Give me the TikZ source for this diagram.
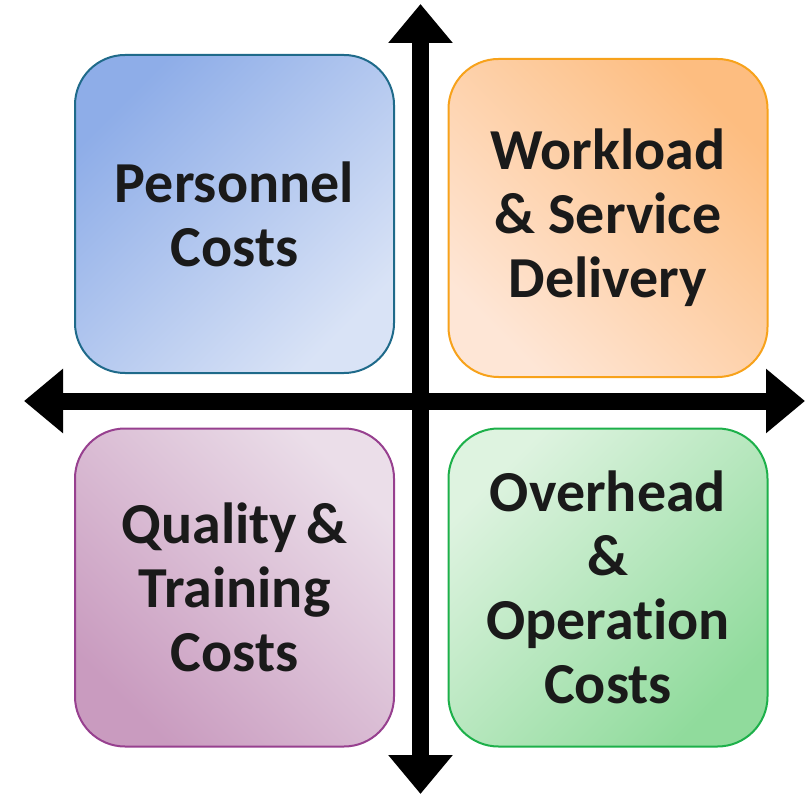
\documentclass[tikz,border=0pt]{standalone}
\usepackage{fontspec}
\setmainfont{Carlito}[Ligatures=NoCommon]
\usetikzlibrary{arrows.meta}
\definecolor{txt}{HTML}{1A1A1A}
\definecolor{bluebd}{HTML}{1F6A8A}
\definecolor{bluedk}{HTML}{8EADE8}
\definecolor{bluelt}{HTML}{D9E3F6}
\definecolor{orabd}{HTML}{F7A21B}
\definecolor{oradk}{HTML}{FDBD80}
\definecolor{oralt}{HTML}{FEE6D6}
\definecolor{purbd}{HTML}{97408F}
\definecolor{purdk}{HTML}{C99BBF}
\definecolor{purlt}{HTML}{EBDEE9}
\definecolor{grnbd}{HTML}{1DB04A}
\definecolor{grndk}{HTML}{90DB9C}
\definecolor{grnlt}{HTML}{DEF3E0}
\tikzset{
  quad/.style={rounded corners=50pt, line width=2pt, minimum width=319pt, minimum height=318pt,
    inner sep=0pt, align=center, text=txt, font=\fontsize{58}{64}\selectfont\bfseries},
  axis/.style={line width=17pt, {Triangle[length=39pt,width=62pt]}-{Triangle[length=39pt,width=62pt]}}
}
\begin{document}
\begin{tikzpicture}[x=1pt,y=1pt]
\useasboundingbox (0,0) rectangle (807,-797);
\node[quad, draw=bluebd, shading=axis, top color=bluedk, bottom color=bluelt, shading angle=45]
  (pc) at (234.5,-214) {Personnel\\Costs};
\node[quad, draw=orabd, shading=axis, top color=oradk, bottom color=oralt, shading angle=-45]
  (ws) at (608,-218) {Workload\\\& Service\\Delivery};
\node[quad, draw=purbd, shading=axis, top color=purlt, bottom color=purdk, shading angle=-45]
  (qt) at (234.5,-587.5) {Quality\,\&\\Training\\Costs};
\node[quad, draw=grnbd, shading=axis, top color=grnlt, bottom color=grndk, shading angle=45]
  (oo) at (608,-587.5) {Overhead\\\&\\Operation\\Costs};
\coordinate (top) at (420.5,-4);
\coordinate (bot) at (420.5,-794);
\coordinate (lft) at (24,-401);
\coordinate (rgt) at (805,-401);
\draw[axis] (bot) -- (top);
\draw[axis] (lft) -- (rgt);
\end{tikzpicture}
\end{document}
